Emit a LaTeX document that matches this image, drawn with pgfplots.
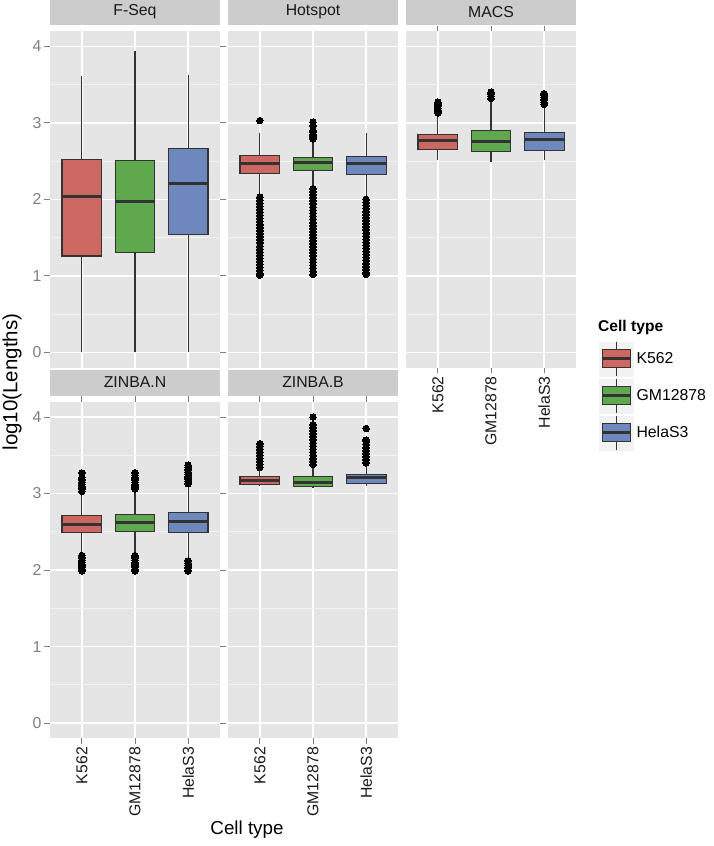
\documentclass[border=0pt]{standalone}
\usepackage{fontspec}
\setmainfont{Liberation Sans}
\usepackage{pgfplots}
\pgfplotsset{compat=1.18}
\usepgfplotslibrary{statistics}
\definecolor{panelbg}{HTML}{E5E5E5}
\definecolor{stripbg}{HTML}{CCCCCC}
\definecolor{minorgrid}{HTML}{F2F2F2}
\definecolor{tickgray}{HTML}{7F7F7F}
\definecolor{keybg}{HTML}{F2F2F2}
\definecolor{boxline}{HTML}{333333}
\definecolor{kred}{HTML}{CD6762}
\definecolor{kgreen}{HTML}{60A84D}
\definecolor{kblue}{HTML}{6E88BE}
\newcommand{\sm}{\fontsize{15.8}{18}\selectfont}
\pgfplotsset{
  bx/.style={boxplot prepared={draw direction=y, box extend=0.75, whisker extend=0, #1}, forget plot,
    draw=boxline, line width=1.1pt, mark=*, mark size=3.3pt,
    mark options={fill=black, draw=black, line width=0pt}},
  panel/.style={
    width=170pt, height=336.7pt, scale only axis,
    xmin=0.4, xmax=3.6, ymin=-0.2, ymax=4.2,
    axis background/.style={fill=panelbg},
    axis line style={draw=none},
    xtick={1,2,3}, ytick={0,1,2,3,4},
    minor ytick={0.5,1.5,2.5,3.5},
    xmajorgrids, ymajorgrids, yminorgrids,
    major grid style={white, line width=1.6pt},
    minor grid style={minorgrid, line width=0.8pt},
    tick align=outside, major tick length=5.5pt, minor tick length=0pt,
    xticklabels={}, yticklabels={},
    xtick style={draw=none}, ytick style={draw=none},
    title style={at={(0.5,1)}, anchor=south, yshift=0pt, fill=stripbg,
      minimum width=170pt, minimum height=26pt, inner sep=0pt, font=\sm, text=black!90},
    boxplot/draw direction=y,
    boxplot/every median/.style={line width=3pt, draw=boxline},
  },
  leftpanel/.style={yticklabels={0,1,2,3,4}, ytick style={draw=tickgray, line width=1pt},
    yticklabel style={text=tickgray, font=\sm, inner sep=3pt}},
  bottompanel/.style={xticklabels={K562,GM12878,HelaS3}, xtick style={draw=tickgray, line width=1pt},
    xticklabel style={rotate=90, anchor=east, font=\sm, text=black!90, inner sep=3pt}},
}
\begin{document}
\begin{tikzpicture}
\useasboundingbox (0,0) rectangle (714pt,-846pt);
\fill[white] (0,0) rectangle (714pt,-846pt);

% F-Seq
\begin{axis}[panel, leftpanel, title={F-Seq}, at={(50pt,-31pt)}, anchor=north west]
\addplot[bx={draw position=1, lower whisker=0, lower quartile=1.26, median=2.04, upper quartile=2.52, upper whisker=3.61}, fill=kred] coordinates {};
\addplot[bx={draw position=2, lower whisker=0, lower quartile=1.30, median=1.97, upper quartile=2.51, upper whisker=3.94}, fill=kgreen] coordinates {};
\addplot[bx={draw position=3, lower whisker=0, lower quartile=1.54, median=2.21, upper quartile=2.67, upper whisker=3.63}, fill=kblue] coordinates {};
\end{axis}

% Hotspot
\begin{axis}[panel, title={Hotspot}, at={(228pt,-31pt)}, anchor=north west]
\addplot[bx={draw position=1, lower whisker=2.06, lower quartile=2.34, median=2.47, upper quartile=2.57, upper whisker=2.87}, fill=kred]
 table[row sep=\\, y index=0] {y\\ 3.03\\ 2.03\\ 1.99\\ 1.95\\ 1.91\\ 1.87\\ 1.83\\ 1.79\\ 1.75\\ 1.71\\ 1.67\\ 1.63\\ 1.59\\ 1.55\\ 1.51\\ 1.47\\ 1.43\\ 1.39\\ 1.35\\ 1.31\\ 1.27\\ 1.23\\ 1.19\\ 1.15\\ 1.11\\ 1.07\\ 1.03\\ 1.01\\};
\addplot[bx={draw position=2, lower whisker=2.17, lower quartile=2.38, median=2.48, upper quartile=2.55, upper whisker=2.76}, fill=kgreen]
 table[row sep=\\, y index=0] {y\\ 3.01\\ 2.96\\ 2.90\\ 2.88\\ 2.85\\ 2.82\\ 2.79\\ 2.14\\ 2.10\\ 2.06\\ 2.02\\ 1.98\\ 1.94\\ 1.90\\ 1.86\\ 1.82\\ 1.78\\ 1.74\\ 1.70\\ 1.66\\ 1.62\\ 1.58\\ 1.54\\ 1.50\\ 1.46\\ 1.42\\ 1.38\\ 1.34\\ 1.30\\ 1.26\\ 1.22\\ 1.18\\ 1.14\\ 1.10\\ 1.06\\ 1.02\\};
\addplot[bx={draw position=3, lower whisker=2.04, lower quartile=2.33, median=2.47, upper quartile=2.56, upper whisker=2.87}, fill=kblue]
 table[row sep=\\, y index=0] {y\\ 2.00\\ 1.96\\ 1.92\\ 1.88\\ 1.84\\ 1.80\\ 1.76\\ 1.72\\ 1.68\\ 1.64\\ 1.60\\ 1.56\\ 1.52\\ 1.48\\ 1.44\\ 1.40\\ 1.36\\ 1.32\\ 1.28\\ 1.24\\ 1.20\\ 1.16\\ 1.12\\ 1.08\\ 1.04\\ 1.02\\};
\end{axis}

% MACS
\begin{axis}[panel, bottompanel, title={MACS}, at={(406pt,-31pt)}, anchor=north west,
  legend style={at={(1.135,0.0793)}, anchor=north west, draw=none, fill=none, inner sep=0pt,
    row sep=2pt, font=\sm, legend cell align=left, nodes={inner sep=3pt}},
  legend image code/.code={
    \fill[keybg] (0pt,-17pt) rectangle (34pt,17pt);
    \draw[boxline, line width=1pt] (17pt,-17pt) -- (17pt,17pt);
    \filldraw[#1, draw=boxline, line width=1.1pt] (3pt,-9pt) rectangle (31pt,9pt);
    \draw[boxline, line width=2.5pt] (3pt,0pt) -- (31pt,0pt);
  }]
\addplot[bx={draw position=1, lower whisker=2.52, lower quartile=2.65, median=2.77, upper quartile=2.85, upper whisker=3.10}, fill=kred]
 table[row sep=\\, y index=0] {y\\ 3.13\\ 3.16\\ 3.19\\ 3.22\\ 3.25\\ 3.27\\};
\addplot[bx={draw position=2, lower whisker=2.49, lower quartile=2.62, median=2.75, upper quartile=2.90, upper whisker=3.29}, fill=kgreen]
 table[row sep=\\, y index=0] {y\\ 3.32\\ 3.35\\ 3.38\\ 3.40\\};
\addplot[bx={draw position=3, lower whisker=2.52, lower quartile=2.64, median=2.78, upper quartile=2.87, upper whisker=3.21}, fill=kblue]
 table[row sep=\\, y index=0] {y\\ 3.24\\ 3.27\\ 3.30\\ 3.33\\ 3.36\\ 3.38\\};
\addlegendimage{fill=kred}\addlegendentry{K562}
\addlegendimage{fill=kgreen}\addlegendentry{GM12878}
\addlegendimage{fill=kblue}\addlegendentry{HelaS3}
\end{axis}

% ZINBA.N
\begin{axis}[panel, leftpanel, bottompanel, title={ZINBA.N}, at={(50pt,-401.7pt)}, anchor=north west]
\addplot[bx={draw position=1, lower whisker=2.22, lower quartile=2.49, median=2.60, upper quartile=2.71, upper whisker=3.00}, fill=kred]
 table[row sep=\\, y index=0] {y\\ 3.03\\ 3.06\\ 3.09\\ 3.12\\ 3.15\\ 3.18\\ 3.21\\ 3.27\\ 2.19\\ 2.16\\ 2.13\\ 2.10\\ 2.07\\ 2.04\\ 2.01\\ 1.99\\};
\addplot[bx={draw position=2, lower whisker=2.22, lower quartile=2.50, median=2.62, upper quartile=2.73, upper whisker=3.03}, fill=kgreen]
 table[row sep=\\, y index=0] {y\\ 3.06\\ 3.09\\ 3.12\\ 3.15\\ 3.18\\ 3.21\\ 3.24\\ 3.27\\ 2.19\\ 2.16\\ 2.13\\ 2.10\\ 2.07\\ 2.04\\ 2.01\\ 1.99\\};
\addplot[bx={draw position=3, lower whisker=2.15, lower quartile=2.49, median=2.64, upper quartile=2.75, upper whisker=3.10}, fill=kblue]
 table[row sep=\\, y index=0] {y\\ 3.13\\ 3.16\\ 3.19\\ 3.22\\ 3.25\\ 3.28\\ 3.31\\ 3.34\\ 3.37\\ 2.12\\ 2.09\\ 2.06\\ 2.03\\ 2.00\\ 1.99\\};
\end{axis}

% ZINBA.B
\begin{axis}[panel, bottompanel, title={ZINBA.B}, at={(228pt,-401.7pt)}, anchor=north west]
\addplot[bx={draw position=1, lower whisker=3.10, lower quartile=3.12, median=3.17, upper quartile=3.22, upper whisker=3.31}, fill=kred]
 table[row sep=\\, y index=0] {y\\ 3.34\\ 3.38\\ 3.42\\ 3.46\\ 3.50\\ 3.54\\ 3.58\\ 3.62\\ 3.65\\};
\addplot[bx={draw position=2, lower whisker=3.08, lower quartile=3.09, median=3.15, upper quartile=3.22, upper whisker=3.35}, fill=kgreen]
 table[row sep=\\, y index=0] {y\\ 3.38\\ 3.42\\ 3.46\\ 3.50\\ 3.54\\ 3.58\\ 3.62\\ 3.66\\ 3.70\\ 3.74\\ 3.78\\ 3.82\\ 3.86\\ 3.90\\ 4.00\\};
\addplot[bx={draw position=3, lower whisker=3.10, lower quartile=3.13, median=3.21, upper quartile=3.25, upper whisker=3.37}, fill=kblue]
 table[row sep=\\, y index=0] {y\\ 3.40\\ 3.44\\ 3.48\\ 3.52\\ 3.56\\ 3.60\\ 3.64\\ 3.68\\ 3.70\\ 3.85\\};
\end{axis}

\node[rotate=90, font=\fontsize{20.5}{24}\selectfont] at (12pt,-382pt) {log10(Lengths)};
\node[font=\fontsize{18.8}{22}\selectfont] at (247pt,-830pt) {Cell type};
\node[anchor=west, font=\bfseries\fontsize{15.6}{18}\selectfont, inner sep=0pt] at (598pt,-327pt) {Cell type};
\end{tikzpicture}
\end{document}
